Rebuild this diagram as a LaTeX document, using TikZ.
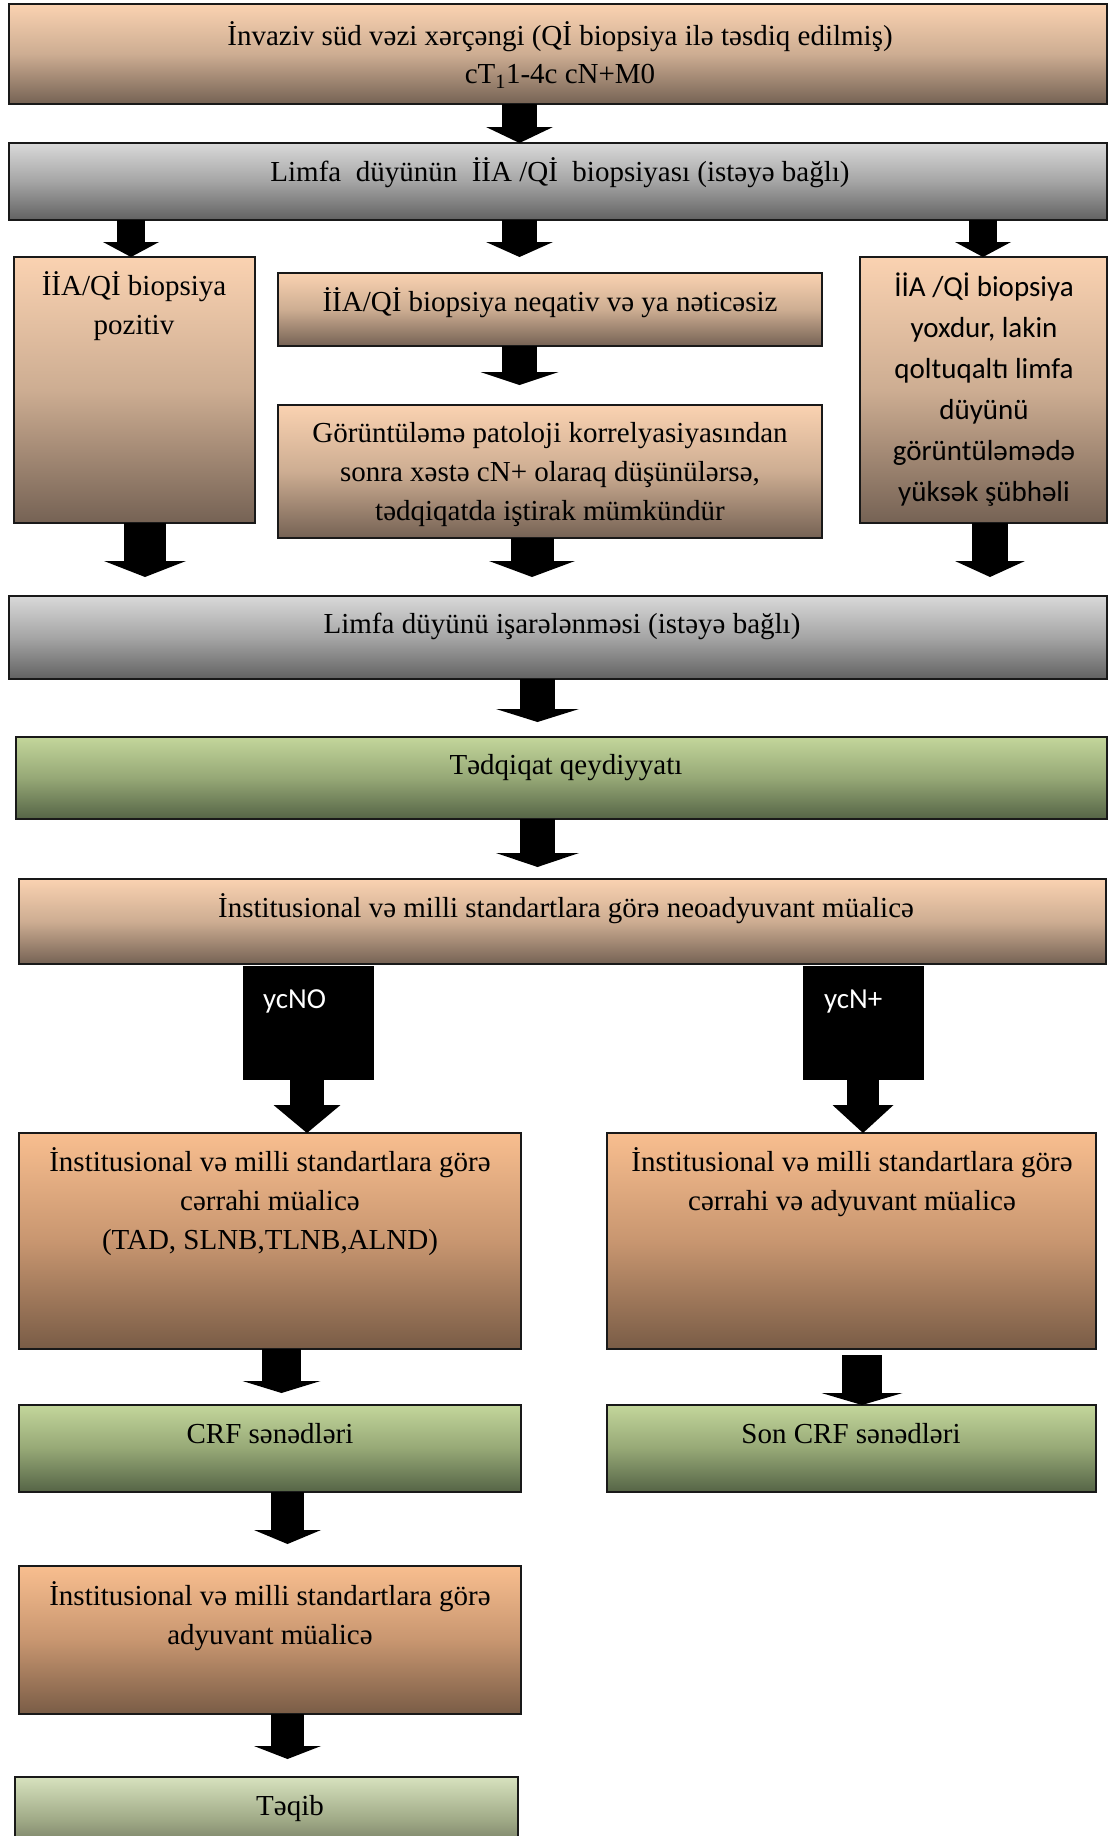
\documentclass[tikz,border=0pt]{standalone}
\usepackage{fontspec}
\setmainfont{Liberation Serif}
\newfontfamily\carlitofont{Carlito}
\usetikzlibrary{arrows.meta}
\definecolor{pkT}{RGB}{250,210,177}
\definecolor{pkM}{RGB}{205,173,146}
\definecolor{pkB}{RGB}{117,98,84}
\definecolor{orT}{RGB}{248,190,143}
\definecolor{orM}{RGB}{200,150,112}
\definecolor{orB}{RGB}{121,92,70}
\definecolor{grT}{RGB}{217,217,217}
\definecolor{grM}{RGB}{165,165,165}
\definecolor{grB}{RGB}{98,98,98}
\definecolor{gnT}{RGB}{195,214,155}
\definecolor{gnM}{RGB}{150,168,118}
\definecolor{gnB}{RGB}{85,100,70}
\definecolor{lgT}{RGB}{215,226,190}
\definecolor{lgM}{RGB}{160,170,135}
\definecolor{lgB}{RGB}{95,100,80}
\begin{document}
\begin{tikzpicture}[x=1pt,y=-1pt,
  box/.style={draw=black!90,line width=1.6pt,rectangle,inner sep=0pt,outer sep=0pt,anchor=north west},
  peach/.style={top color=pkT,bottom color=pkB,middle color=pkM},
  orng/.style={top color=orT,bottom color=orB,middle color=orM},
  grey/.style={top color=grT,bottom color=grB,middle color=grM},
  green/.style={top color=gnT,bottom color=gnB,middle color=gnM},
  lgreen/.style={top color=lgT,bottom color=lgB,middle color=lgM},
  blackbox/.style={fill=black,draw=black,rectangle,inner sep=0pt,outer sep=0pt,anchor=north west},
  txt/.style={inner sep=0pt,outer sep=0pt,align=center,font=\fontsize{29}{39}\selectfont,anchor=base},
  ctxt/.style={inner sep=0pt,outer sep=0pt,align=center,font=\carlitofont\fontsize{29}{41}\selectfont,anchor=base},
  wtxt/.style={inner sep=0pt,outer sep=0pt,text=white,font=\carlitofont\fontsize{29}{35}\selectfont,anchor=base west},
  blk/.style n args={3}{line width=#1,-{Triangle[width=#2,length=#3,line width=0pt]}},
]
\clip (0,0) rectangle (1109,1836);
\fill[white] (0,0) rectangle (1109,1836);

% boxes
\node[box,peach,minimum width=1098pt,minimum height=100pt] (b1) at (9,4) {};
\node[box,grey,minimum width=1098pt,minimum height=77pt] (b2) at (9,143) {};
\node[box,peach,minimum width=241pt,minimum height=266pt] (bl) at (14,257) {};
\node[box,peach,minimum width=544pt,minimum height=73pt] (bm1) at (278,273) {};
\node[box,peach,minimum width=544pt,minimum height=133pt] (bm2) at (278,405) {};
\node[box,peach,minimum width=247pt,minimum height=266pt] (br) at (860,257) {};
\node[box,grey,minimum width=1098pt,minimum height=83pt] (b3) at (9,596) {};
\node[box,green,minimum width=1091pt,minimum height=82pt] (b4) at (16,737) {};
\node[box,peach,minimum width=1087pt,minimum height=85pt] (b5) at (19,879) {};
\node[blackbox,minimum width=130pt,minimum height=113pt] (y1) at (243,966) {};
\node[blackbox,minimum width=120pt,minimum height=113pt] (y2) at (803,966) {};
\node[box,orng,minimum width=502pt,minimum height=216pt] (c1) at (19,1133) {};
\node[box,orng,minimum width=489pt,minimum height=216pt] (c2) at (607,1133) {};
\node[box,green,minimum width=502pt,minimum height=87pt] (d1) at (19,1405) {};
\node[box,green,minimum width=489pt,minimum height=87pt] (d2) at (607,1405) {};
\node[box,orng,minimum width=502pt,minimum height=148pt] (e1) at (19,1566) {};
\node[box,lgreen,minimum width=503pt,minimum height=85pt] (f1) at (15,1777) {};

% texts (base anchor = baseline of last line)
\node[txt] (t1) at (560,84) {İnvaziv süd vəzi xərçəngi (Qİ biopsiya ilə təsdiq edilmiş)\\cT\textsubscript{1}1-4c cN+M0};
\node[txt] (t2) at (560,181) {Limfa\ \ düyünün\ \ İİA /Qİ\ \ biopsiyası (istəyə bağlı)};
\node[txt] (tl) at (134,334) {İİA/Qİ biopsiya\\pozitiv};
\node[txt] (tm1) at (550,311) {İİA/Qİ biopsiya neqativ və ya nəticəsiz};
\node[txt] (tm2) at (550,520) {Görüntüləmə patoloji korrelyasiyasından\\sonra xəstə cN+ olaraq düşünülərsə,\\tədqiqatda iştirak mümkündür};
\node[ctxt] (tr) at (984,501) {İİA /Qİ biopsiya\\yoxdur, lakin\\qoltuqaltı limfa\\düyünü\\görüntüləmədə\\yüksək şübhəli};
\node[txt] (t3) at (562,633) {Limfa düyünü işarələnməsi (istəyə bağlı)};
\node[txt] (t4) at (566,774) {Tədqiqat qeydiyyatı};
\node[txt] (t5) at (566,917) {İnstitusional və milli standartlara görə neoadyuvant müalicə};
\node[wtxt] (ty1) at (263,1008) {ycNO};
\node[wtxt] (ty2) at (824,1008) {ycN+};
\node[txt] (tc1) at (270,1249) {İnstitusional və milli standartlara görə\\cərrahi müalicə\\(TAD, SLNB,TLNB,ALND)};
\node[txt] (tc2) at (852,1210) {İnstitusional və milli standartlara görə\\cərrahi və adyuvant müalicə};
\node[txt] (td1) at (270,1443) {CRF sənədləri};
\node[txt] (td2) at (851,1443) {Son CRF sənədləri};
\node[txt] (te1) at (270,1644) {İnstitusional və milli standartlara görə\\adyuvant müalicə};
\node[txt] (tf1) at (290,1815) {Təqib};

% arrow columns
\coordinate (xa) at (519.5,0);
\coordinate (xl) at (131,0);
\coordinate (xr) at (983,0);
\coordinate (xl2) at (145,0);
\coordinate (xm2) at (532,0);
\coordinate (xr2) at (990,0);
\coordinate (xb) at (537.5,0);
\coordinate (xy1) at (307,0);
\coordinate (xy2) at (863,0);
\coordinate (xc1) at (281.5,0);
\coordinate (xc2) at (862,0);
\coordinate (xd1) at (287.5,0);

% connectors
\draw[blk={35pt}{67pt}{16pt}] (b1.south -| xa) -- (b2.north -| xa);
\draw[blk={28pt}{56pt}{15pt}] (b2.south -| xl) -- (bl.north -| xl);
\draw[blk={35pt}{67pt}{15pt},shorten >=16pt] (b2.south -| xa) -- (bm1.north -| xa);
\draw[blk={28pt}{56pt}{15pt}] (b2.south -| xr) -- (br.north -| xr);
\draw[blk={35pt}{78pt}{13pt},shorten >=20pt] (bm1.south -| xa) -- (bm2.north -| xa);
\draw[blk={42pt}{82pt}{16pt},shorten >=19pt] (bl.south -| xl2) -- (b3.north -| xl2);
\draw[blk={43pt}{86pt}{16pt},shorten >=19pt] (bm2.south -| xm2) -- (b3.north -| xm2);
\draw[blk={36pt}{70pt}{16pt},shorten >=19pt] (br.south -| xr2) -- (b3.north -| xr2);
\draw[blk={35pt}{83pt}{13pt},shorten >=15pt] (b3.south -| xb) -- (b4.north -| xb);
\draw[blk={35pt}{83pt}{14pt},shorten >=12pt] (b4.south -| xb) -- (b5.north -| xb);
\draw[blk={34pt}{67pt}{28pt}] (y1.south -| xy1) -- (c1.north -| xy1);
\draw[blk={32pt}{61pt}{28pt}] (y2.south -| xy2) -- (c2.north -| xy2);
\draw[blk={39pt}{78pt}{12pt},shorten >=12pt] (c1.south -| xc1) -- (d1.north -| xc1);
\draw[blk={40pt}{81pt}{12pt},shorten <=6pt] (c2.south -| xc2) -- (d2.north -| xc2);
\draw[blk={33pt}{67pt}{14pt},shorten >=22pt] (d1.south -| xd1) -- (e1.north -| xd1);
\draw[blk={33pt}{67pt}{13pt},shorten >=18pt] (e1.south -| xd1) -- (f1.north -| xd1);
\end{tikzpicture}
\end{document}
